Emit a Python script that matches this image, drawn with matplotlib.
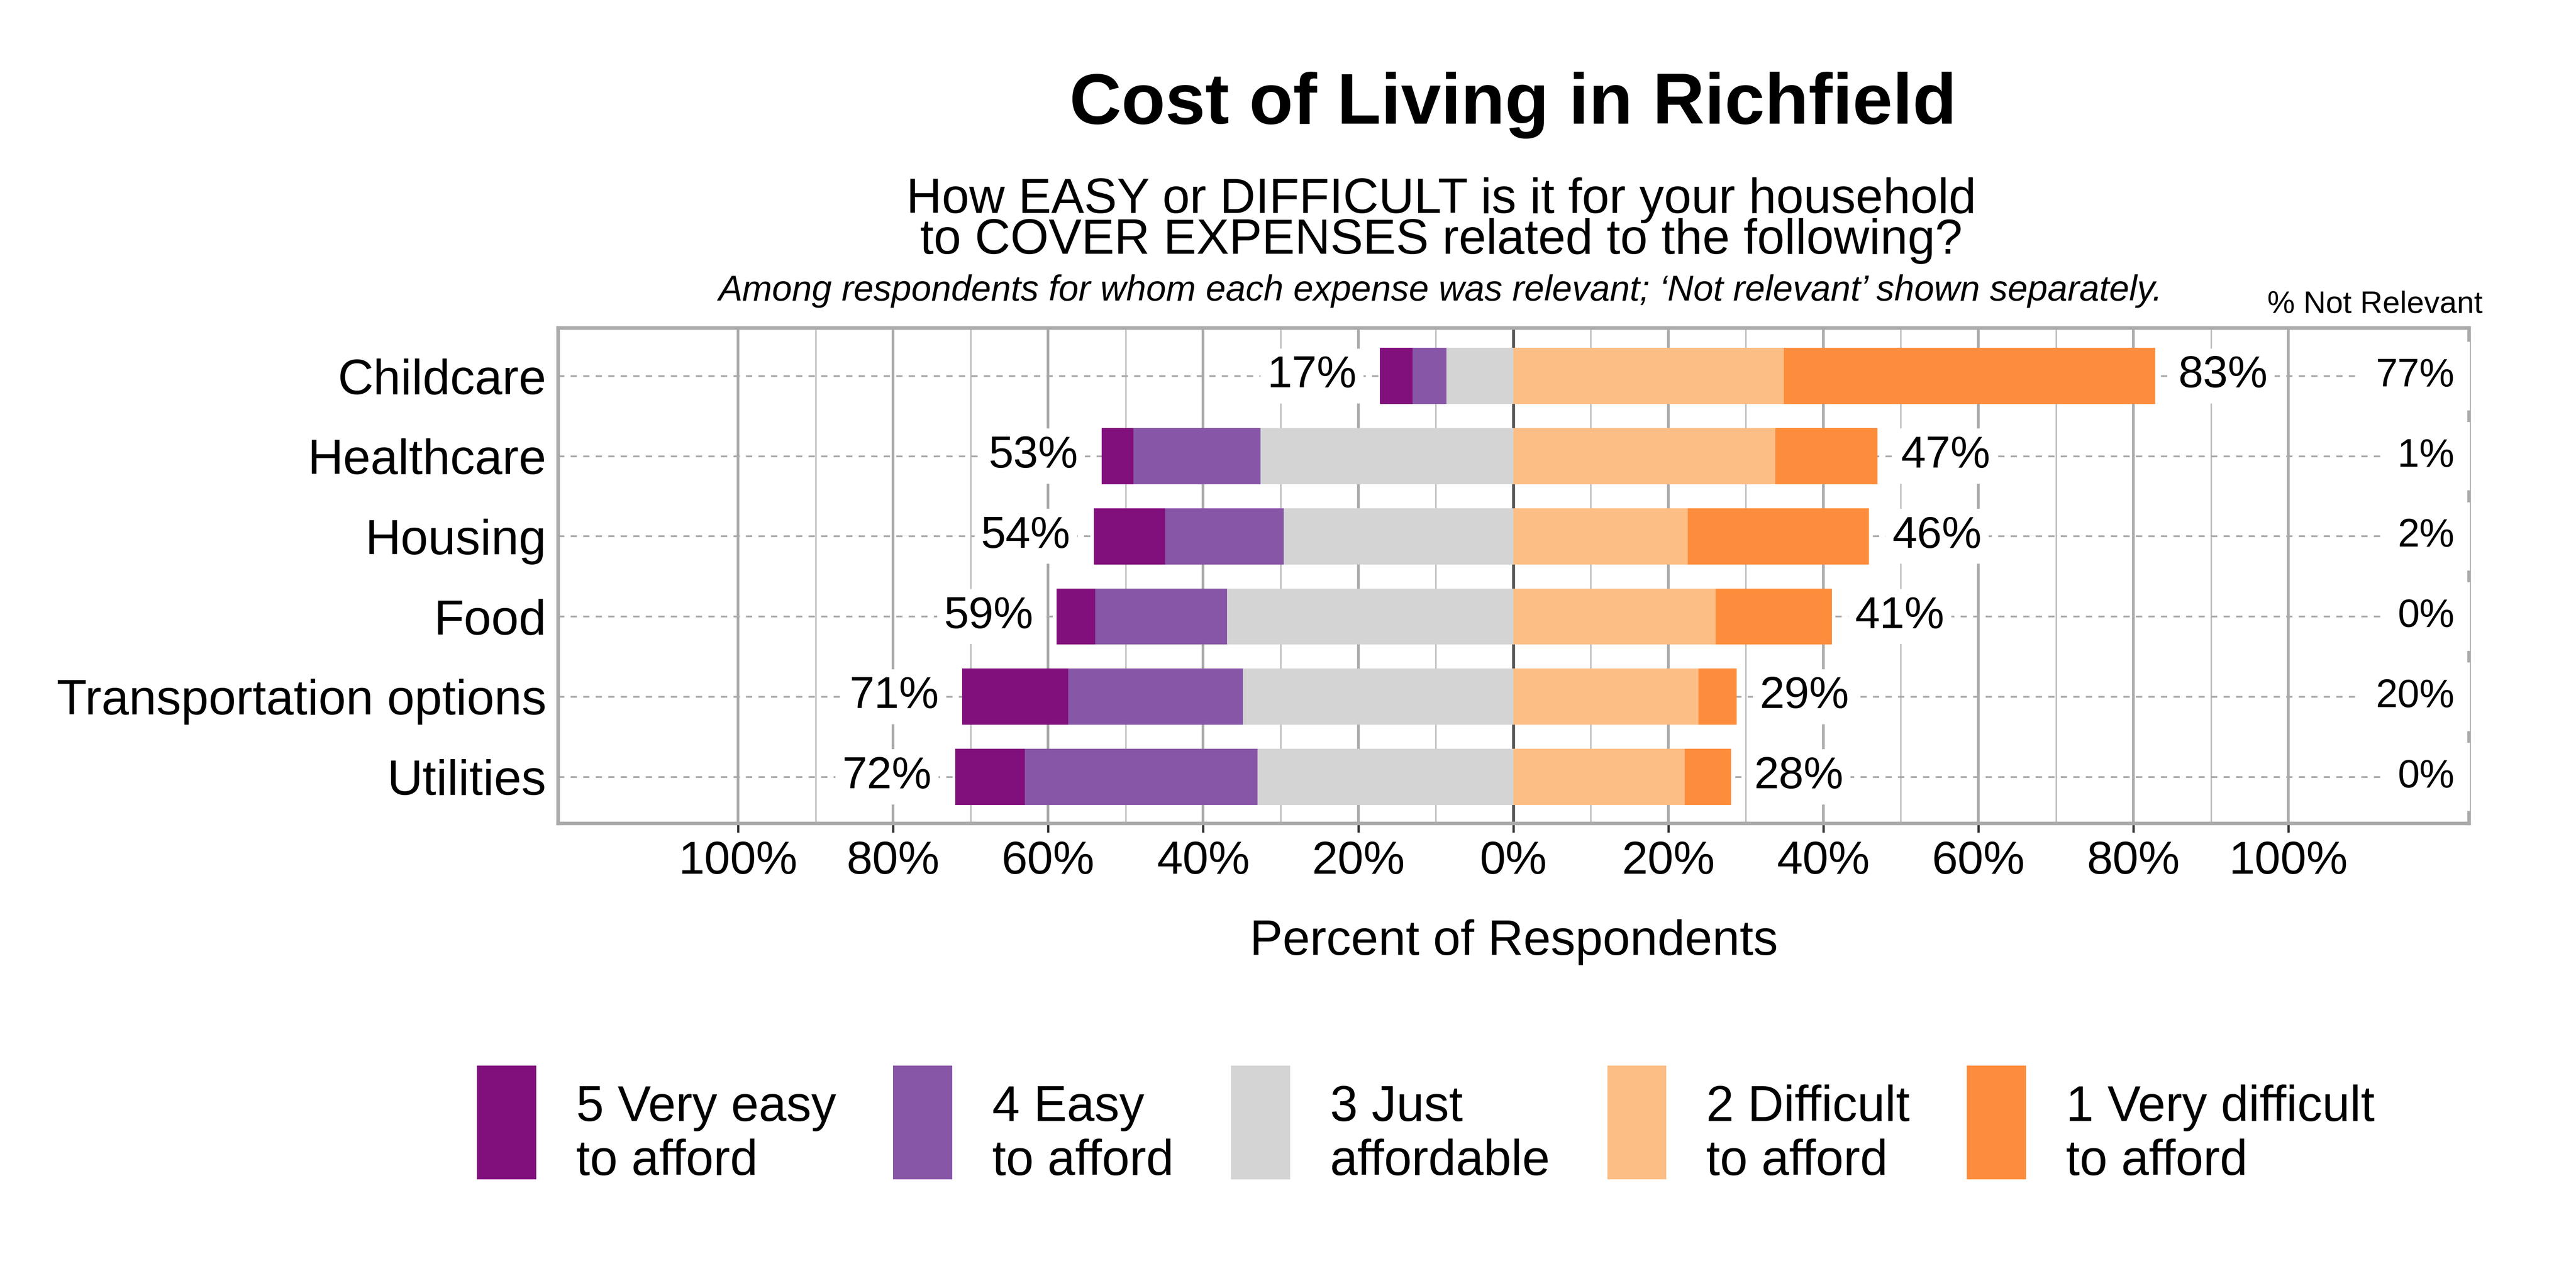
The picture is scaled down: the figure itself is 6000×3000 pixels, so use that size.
"""Diverging stacked bar chart: cost of living in Richfield."""

import matplotlib

matplotlib.use("Agg")

import matplotlib.pyplot as plt
from matplotlib.legend_handler import HandlerPatch
from matplotlib.patches import Patch, Rectangle

plt.rcParams["font.family"] = ["Liberation Sans", "DejaVu Sans"]

categories = ["Childcare", "Healthcare", "Housing", "Food", "Transportation options", "Utilities"]
very_easy = [4.2, 4.1, 9.2, 5.0, 13.7, 9.0]
easy = [4.4, 16.4, 15.3, 17.0, 22.5, 30.0]
just_affordable = [8.6, 32.6, 29.6, 36.9, 34.9, 33.0]
difficult = [34.9, 33.8, 22.5, 26.1, 23.9, 22.1]
very_difficult = [47.9, 13.2, 23.4, 15.0, 4.9, 6.0]
not_relevant = [77, 1, 2, 0, 20, 0]

legend_labels = [
    "5 Very easy\nto afford",
    "4 Easy\nto afford",
    "3 Just\naffordable",
    "2 Difficult\nto afford",
    "1 Very difficult\nto afford",
]
colors = ["#810f7c", "#8856a7", "#d4d4d4", "#fdbe85", "#fd8d3c"]
x_ticks = list(range(-100, 101, 20))

GRID = "#aaaaaa"


def _raised_box(legend, orig_handle, xdescent, ydescent, width, height, fontsize):
    # legend swatch nudged up so the two-line label sits on its lower half
    return Rectangle((-xdescent, -ydescent + 9.0), width, height)


def main():
    fig = plt.figure(figsize=(20, 10), dpi=300)
    ax = fig.add_axes([0.2167, 0.3607, 0.7418, 0.3847])

    ypos = list(range(len(categories)))
    bar_h = 0.70

    # negative side: just affordable closest to zero, then easy, then very easy
    left = [-j for j in just_affordable]
    ax.barh(ypos, just_affordable, left=left, height=bar_h, color=colors[2], zorder=3)
    left = [l - e for l, e in zip(left, easy)]
    ax.barh(ypos, easy, left=left, height=bar_h, color=colors[1], zorder=3)
    left = [l - v for l, v in zip(left, very_easy)]
    ax.barh(ypos, very_easy, left=left, height=bar_h, color=colors[0], zorder=3)
    neg_total = [-l for l in left]

    # positive side
    ax.barh(ypos, difficult, left=0, height=bar_h, color=colors[3], zorder=3)
    ax.barh(ypos, very_difficult, left=difficult, height=bar_h, color=colors[4], zorder=3)
    pos_total = [d + v for d, v in zip(difficult, very_difficult)]

    for y in ypos:
        ax.axhline(y, color=GRID, lw=1.0, ls=(0, (3.5, 3.5)), zorder=1)
    ax.axvline(0, color="#555555", lw=1.6, zorder=2)

    box = dict(boxstyle="square,pad=0.15", fc="white", ec="none")
    for y, n, p, nr in zip(ypos, neg_total, pos_total, not_relevant):
        ax.text(-(n + 3.0), y, f"{round(n)}%", ha="right", va="center",
                fontsize=25, bbox=box, zorder=4)
        ax.text(p + 3.0, y, f"{round(p)}%", ha="left", va="center",
                fontsize=25, bbox=box, zorder=4)
        ax.text(121.4, y, f"{nr}%", ha="right", va="center", fontsize=22,
                bbox=dict(boxstyle="square,pad=0.4", fc="white", ec="none"), zorder=4)

    ax.set_xlim(-123.2, 123.3)
    ax.set_ylim(len(categories) - 0.42, -0.6)
    ax.set_xticks(x_ticks)
    ax.set_xticklabels([f"{abs(t)}%" for t in x_ticks])
    ax.set_xticks(list(range(-90, 91, 20)), minor=True)
    ax.set_yticks(ypos)
    ax.set_yticklabels(categories)

    ax.grid(axis="x", which="major", color=GRID, lw=1.5, zorder=0)
    ax.grid(axis="x", which="minor", color="#bbbbbb", lw=0.8, zorder=0)
    ax.set_axisbelow(True)

    ax.tick_params(axis="x", which="major", labelsize=26, length=5, width=1.3,
                   color="#333333", pad=4.5)
    ax.tick_params(axis="x", which="minor", length=0)
    ax.tick_params(axis="y", labelsize=27.6, length=0, pad=6.7)
    for spine in ax.spines.values():
        spine.set_color(GRID)
        spine.set_linewidth(2.0)

    ax.set_xlabel("Percent of Respondents", fontsize=27.5, labelpad=20)

    fig.text(0.5873, 0.904, "Cost of Living in Richfield", ha="center", va="baseline",
             fontsize=40.2, fontweight="bold")
    fig.text(0.5595, 0.803,
             "How EASY or DIFFICULT is it for your household\nto COVER EXPENSES related to the following?",
             ha="center", va="baseline", fontsize=27.5, linespacing=0.86)
    fig.text(0.5592, 0.7667,
             "Among respondents for whom each expense was relevant; \u2018Not relevant\u2019 shown separately.",
             ha="center", va="baseline", fontsize=20, style="italic")
    fig.text(0.9638, 0.7573, "% Not Relevant", ha="right", va="baseline", fontsize=17.3)

    handles = [Patch(facecolor=c, edgecolor="none") for c in colors]
    fig.legend(handles, legend_labels, loc="center", bbox_to_anchor=(0.5535, 0.116),
               ncol=5, frameon=False, fontsize=27.8, handlelength=1.19,
               handleheight=3.13, handletextpad=0.8, columnspacing=1.15,
               handler_map={Patch: HandlerPatch(patch_func=_raised_box)})

    fig.savefig("out.png", dpi=300)
    plt.close(fig)


if __name__ == "__main__":
    main()
